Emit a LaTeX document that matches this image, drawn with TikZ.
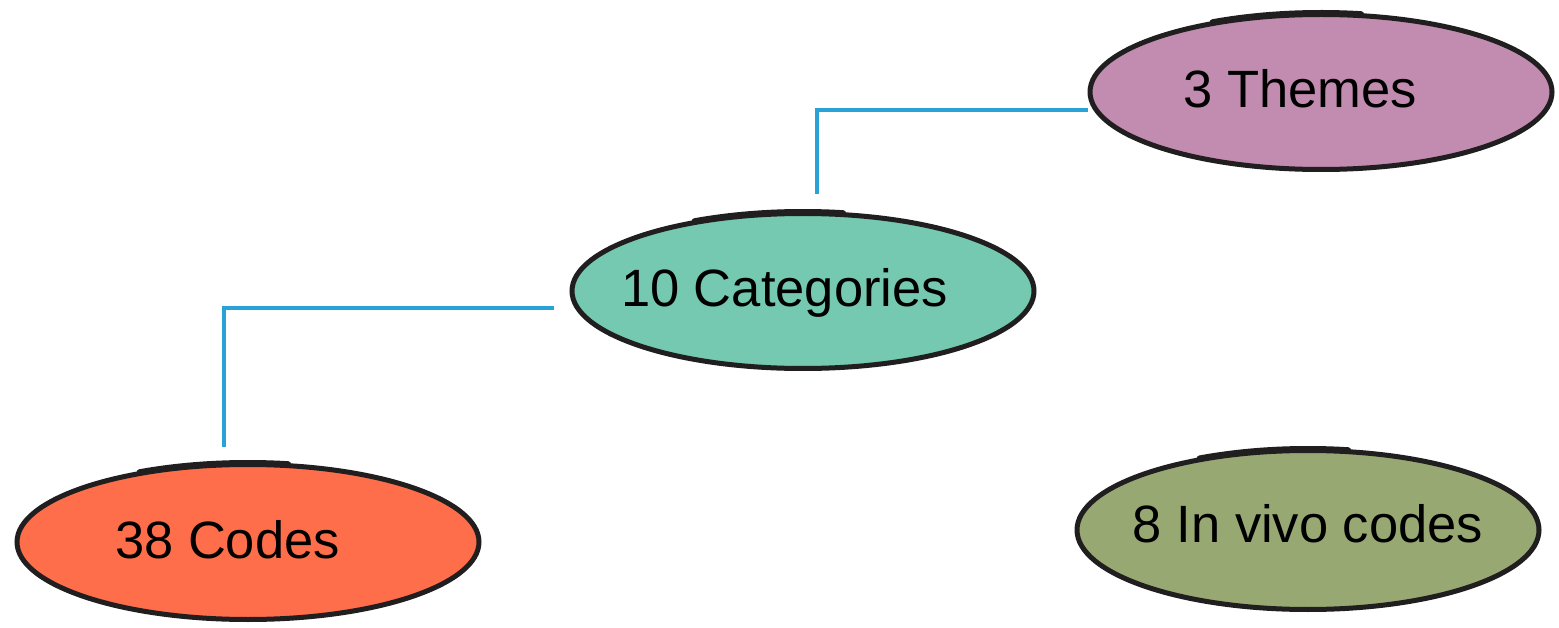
\documentclass[tikz,border=0pt]{standalone}
\usepackage{fontspec}
\setmainfont{Liberation Sans}
\usetikzlibrary{shapes.geometric}
\definecolor{themefill}{RGB}{193,140,176}
\definecolor{catfill}{RGB}{116,201,176}
\definecolor{codefill}{RGB}{255,110,74}
\definecolor{vivofill}{RGB}{152,168,115}
\definecolor{linkblue}{RGB}{40,162,215}
\definecolor{rim}{RGB}{32,30,30}
\tikzset{
  ell/.style={ellipse, draw=rim, line width=5pt, inner sep=0pt, minimum width=462pt, minimum height=155pt},
  lbl/.style={anchor=base, inner sep=0pt, font=\fontsize{52.5}{60}\selectfont, text=black},
  link/.style={draw=linkblue, line width=3.6pt},
  rimstroke/.style={draw=rim, line width=6pt, line cap=round}
}
\begin{document}
\begin{tikzpicture}[x=1pt,y=-1pt]
\useasboundingbox (0,0) rectangle (1559,628);
\node[ell, fill=themefill] (themes) at (1321,92) {};
\node[ell, fill=catfill] (cat) at (803,291) {};
\node[ell, fill=codefill] (codes) at (248,542) {};
\node[ell, fill=vivofill, minimum height=159pt] (vivo) at (1308,530) {};
\foreach \n/\ry in {themes/79,cat/79,codes/79,vivo/81}{
  \draw[rimstroke] (\n.center) ++(242:231 and \ry)
    arc[start angle=242, end angle=280, x radius=231, y radius=\ry];
}
\node[lbl] (themesT) at (1300,108) {3 Themes};
\node[lbl] (catT) at (784.5,307) {10 Categories};
\node[lbl] (codesT) at (227.5,558) {38 Codes};
\node[lbl] (vivoT) at (1308,542) {8 In vivo codes};
\draw[link] ([xshift=-16pt,yshift=-17pt]cat.west) -| ([xshift=-24pt,yshift=15pt]codes.north);
\draw[link] ([xshift=14pt,yshift=17pt]cat.north) |- ([yshift=-18pt]themes.west);
\end{tikzpicture}
\end{document}
